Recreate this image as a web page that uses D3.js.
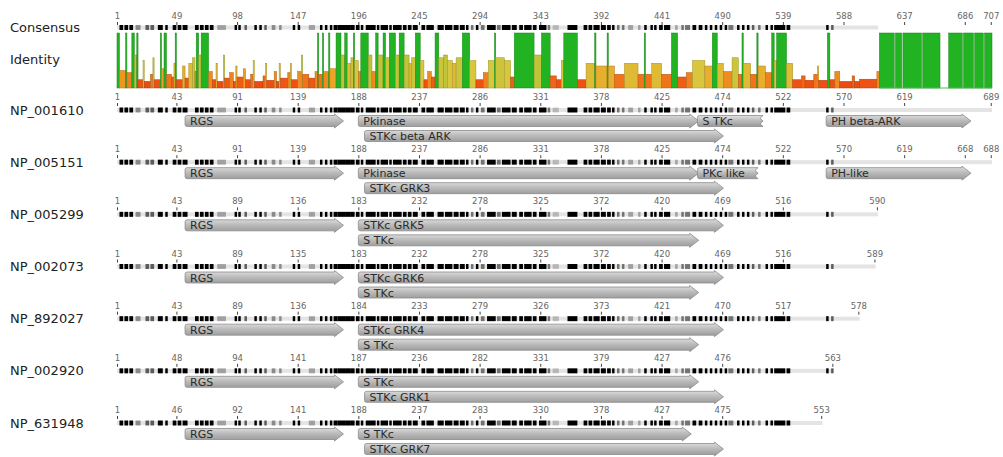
<!DOCTYPE html>
<html>
<head>
<meta charset="utf-8">
<script src="https://cdn.jsdelivr.net/npm/d3@7"></script>
<style>
  body { margin: 0; background: #fff; }
  text { font-family: "DejaVu Sans", sans-serif; }
</style>
</head>
<body>
<svg id="chart" width="1003" height="457"></svg>
<script>
// alignment: 707 columns
const alignLength = 707;

// consensus ruler
const consensusTicks = [1, 49, 98, 147, 196, 245, 294, 343, 392, 441, 490, 539, 588, 637, 686, 707];
const consensusEnd = 615;

// sequences
const seqNames = ["NP_001610", "NP_005151", "NP_005299", "NP_002073", "NP_892027", "NP_002920", "NP_631948"];
const seqEnds = [707, 707, 615, 613, 600, 579, 570];
const seqTickLabels = [
  [1, 43, 91, 139, 188, 237, 286, 331, 378, 425, 474, 522, 570, 619, 689],
  [1, 43, 91, 139, 188, 237, 286, 331, 378, 425, 474, 522, 570, 619, 668, 688],
  [1, 43, 89, 136, 183, 232, 278, 325, 372, 420, 469, 516, 590],
  [1, 43, 89, 135, 183, 232, 278, 325, 372, 420, 469, 516, 589],
  [1, 43, 89, 136, 184, 233, 279, 326, 373, 421, 470, 517, 578],
  [1, 48, 94, 141, 187, 236, 282, 331, 379, 427, 476, 563],
  [1, 46, 92, 141, 188, 237, 283, 330, 378, 427, 475, 553]
];

// conserved blocks in the consensus / sequence tracks: [from, to, darkness]
const trackBlocks = [
  [3,5,1],[7,9,1],[11,13,1],[16,19,0.4],[24,26,0.6],[28,30,0.6],[34,37,1],[40,41,1],[46,48,1],[50,52,1],
  [54,57,1],[64,66,1],[68,70,1],[72,74,1],[76,78,1],[82,88,0.3],[96,97,1],[99,100,1],[104,105,0.6],
  [112,113,1],[116,117,1],[120,121,0.6],[126,128,0.4],[132,133,0.4],[143,144,1],[147,148,1],[156,160,0.3],
  [165,166,1],[169,170,1],[173,174,1],[176,178,1],[179,181,1],[182,185,1],[186,189,1],[190,192,1],
  [194,196,1],[198,199,1],[202,209,1],[211,212,1],[214,219,1],[221,222,1],[224,230,1],[232,234,1],
  [236,238,1],[240,243,1],[247,249,1],[251,256,1],[260,264,1],[266,271,1],[273,276,1],[278,281,1],
  [283,284,1],[287,288,0.5],[291,292,1],[295,297,0.5],[300,306,1],[308,310,0.5],[312,318,1],[320,323,1],
  [326,328,1],[330,335,1],[337,339,1],[342,347,1],[349,350,0.5],[353,357,0.2],[365,372,1],[378,380,1],
  [382,384,1],[386,390,1],[392,395,1],[397,399,1],[401,402,1],[405,406,0.5],[409,410,0.5],[414,417,0.3],
  [422,423,0.3],[427,428,1],[432,433,1],[435,436,1],[439,441,1],[443,447,1],[452,453,0.3],[457,458,0.5],
  [460,463,0.5],[466,468,1],[471,473,1],[476,477,1],[480,481,1],[484,485,1],[488,489,1],[492,493,1],
  [495,498,0.5],[502,503,1],[506,507,1],[510,511,1],[514,515,0.6],[519,520,0.5],[525,526,1],[529,530,1],
  [532,540,1],[542,544,1],[574,575,1],[578,579,0.6]
];

// identity graph: [from, to, percent identity]
const identityRuns = [
  [1,2,100],[3,7,32],[8,8,100],[9,12,28],[13,14,100],[15,16,60],[17,17,100],[18,21,15],[22,22,50],[23,27,12],
  [28,29,25],[30,30,55],[31,35,15],[36,36,100],[37,38,35],[39,40,100],[41,44,25],[45,46,20],[47,47,45],
  [48,48,100],[49,53,15],[54,55,40],[56,58,18],[59,61,45],[62,63,55],[64,64,30],[65,66,100],[67,68,60],
  [69,74,100],[75,77,30],[78,80,15],[81,81,45],[82,86,12],[87,87,60],[88,91,18],[92,94,28],[95,96,12],
  [97,97,40],[98,102,20],[103,104,35],[105,108,15],[109,110,25],[111,111,50],[112,118,12],[119,120,22],
  [121,121,45],[122,127,14],[128,129,30],[130,131,12],[132,132,45],[133,138,18],[139,140,28],[141,141,45],
  [142,146,15],[147,149,30],[150,150,60],[151,155,25],[156,160,18],[161,162,30],[163,163,100],[164,166,25],
  [167,167,100],[168,171,30],[172,172,100],[173,177,35],[178,181,100],[182,184,60],[185,186,100],
  [187,189,45],[190,191,55],[192,192,100],[193,195,50],[196,197,30],[198,203,100],[204,206,60],
  [207,209,30],[210,211,100],[212,215,60],[216,217,100],[218,220,55],[221,225,100],[226,228,60],
  [229,232,100],[233,236,60],[237,238,45],[239,241,55],[242,245,100],[246,248,50],[249,251,15],
  [252,254,30],[255,257,20],[258,260,100],[261,264,55],[265,267,60],[268,271,50],[272,274,45],
  [275,279,55],[280,285,100],[286,290,50],[291,296,15],[297,300,28],[301,305,50],[306,306,100],
  [307,313,55],[314,318,50],[319,321,20],[322,337,100],[338,343,60],[344,350,100],[351,355,22],
  [356,359,15],[360,361,50],[362,372,100],[373,379,15],[380,386,45],[387,387,100],[388,396,40],
  [397,397,100],[398,402,40],[403,410,25],[411,421,45],[422,426,25],[427,427,100],[428,432,25],
  [433,440,45],[441,448,25],[449,453,100],[454,460,20],[461,465,28],[466,475,50],[476,481,40],
  [482,485,100],[486,490,45],[491,497,30],[498,502,55],[503,505,25],[506,506,100],[507,512,45],
  [513,517,25],[518,518,100],[519,524,40],[525,529,28],[530,531,100],[532,533,50],[534,541,100],
  [542,546,45],[547,553,15],[554,556,22],[557,563,14],[564,566,25],[567,567,40],[568,574,14],
  [575,576,100],[577,580,15],[581,584,30],[585,594,12],[595,596,22],[597,600,12],[601,614,16],
  [615,616,30],[617,628,100],[630,634,100],[636,650,100],[652,665,100],[673,683,100],[685,692,100],
  [694,700,100],[702,707,100]
];

// annotations: [row, lane, name, from, to, end type]
const features = [
  [0,0,"RGS",56,183,"arrow"],[0,0,"Pkinase",196,470,"arrow"],[0,0,"S TKc",470,522,"ragged"],
  [0,0,"PH beta-ARK",574,690,"arrow"],[0,1,"STKc beta ARK",201,490,"arrow"],
  [1,0,"RGS",56,183,"arrow"],[1,0,"Pkinase",196,470,"arrow"],[1,0,"PKc like",470,518,"ragged"],
  [1,0,"PH-like",574,690,"arrow"],[1,1,"STKc GRK3",201,490,"arrow"],
  [2,0,"RGS",56,183,"arrow"],[2,0,"STKc GRK5",196,490,"arrow"],[2,1,"S TKc",196,470,"arrow"],
  [3,0,"RGS",56,183,"arrow"],[3,0,"STKc GRK6",196,490,"arrow"],[3,1,"S TKc",196,470,"arrow"],
  [4,0,"RGS",56,183,"arrow"],[4,0,"STKc GRK4",196,490,"arrow"],[4,1,"S TKc",196,470,"arrow"],
  [5,0,"RGS",56,183,"arrow"],[5,0,"S TKc",196,470,"arrow"],[5,1,"STKc GRK1",201,490,"arrow"],
  [6,0,"RGS",56,183,"arrow"],[6,0,"S TKc",196,464,"arrow"],[6,1,"STKc GRK7",201,490,"arrow"]
];

const svg = d3.select("#chart");

const x = d3.scaleLinear().domain([1, alignLength + 1]).range([117, 992]);
const rowY = d3.scaleLinear().domain([0, 6]).range([110, 423]);
const idY = d3.scaleLinear().domain([0, 100]).range([88, 33]);
const idColor = d3.scaleLinear()
  .domain([0, 20, 35, 50, 70, 99, 100])
  .range(["#e6300e", "#ef5c14", "#eea426", "#d8c63c", "#a6c236", "#7cbd30", "#21b321"]);

// gradient for annotation arrows
const defs = svg.append("defs");
const grad = defs.append("linearGradient").attr("id", "annGrad")
  .attr("x1", 0).attr("x2", 0).attr("y1", 0).attr("y2", 1);
grad.append("stop").attr("offset", "0%").attr("stop-color", "#e2e2e2");
grad.append("stop").attr("offset", "45%").attr("stop-color", "#bcbcbc");
grad.append("stop").attr("offset", "100%").attr("stop-color", "#979797");

// left labels
svg.append("text").attr("x", 10).attr("y", 32).attr("font-size", 13).attr("fill", "#222").text("Consensus");
svg.append("text").attr("x", 10).attr("y", 64).attr("font-size", 13).attr("fill", "#222").text("Identity");

function ruler(y, cols, labels) {
  const ax = d3.axisTop(x)
    .tickValues(cols)
    .tickFormat((d, i) => labels[i])
    .tickSize(3)
    .tickPadding(3);
  const g = svg.append("g").attr("transform", "translate(0," + y + ")").call(ax);
  g.select(".domain").remove();
  g.selectAll(".tick line").attr("stroke", "#444").attr("stroke-width", 1);
  g.selectAll(".tick text")
    .attr("fill", "#666")
    .attr("font-size", 8.5)
    .attr("font-family", "DejaVu Sans Mono, monospace");
}

function track(y, end, h) {
  svg.append("rect")
    .attr("x", x(1)).attr("y", y - h / 2)
    .attr("width", x(end + 1) - x(1)).attr("height", h)
    .attr("fill", "#e4e4e4");
  svg.append("g").selectAll("rect")
    .data(trackBlocks.filter(d => d[0] <= end))
    .enter().append("rect")
    .attr("x", d => x(d[0]))
    .attr("y", y - h / 2 - 0.5)
    .attr("width", d => x(Math.min(d[1], end) + 1) - x(d[0]))
    .attr("height", h + 1)
    .attr("fill", "#000")
    .attr("opacity", d => d[2]);
}

// consensus row
ruler(25, consensusTicks, consensusTicks);
track(27.5, consensusEnd, 4);

// identity graph
svg.append("g").selectAll("rect")
  .data(identityRuns)
  .enter().append("rect")
  .attr("x", d => x(d[0]))
  .attr("y", d => idY(d[2]))
  .attr("width", d => x(d[1] + 1) - x(d[0]))
  .attr("height", d => idY(0) - idY(d[2]))
  .attr("fill", d => idColor(d[2]))
  .attr("stroke", d => d3.color(idColor(d[2])).darker(0.8))
  .attr("stroke-width", 0.5);
svg.append("line")
  .attr("x1", x(617)).attr("x2", x(alignLength + 1))
  .attr("y1", idY(0)).attr("y2", idY(0))
  .attr("stroke", "#5cb85c").attr("stroke-width", 1);

// sequence rows
seqNames.forEach((name, i) => {
  const y = rowY(i);
  svg.append("text").attr("x", 10).attr("y", y + 4.5)
    .attr("font-size", 13).attr("fill", "#222").text(name);
  const labels = seqTickLabels[i];
  const cols = consensusTicks.slice(0, labels.length - 1).concat([seqEnds[i]]);
  ruler(y - 4, cols, labels);
  track(y, seqEnds[i], 4);
});

// annotation arrows
function featurePath(x0, x1, yc, type) {
  const h = 5.5, hh = 7, head = 9, r = 2;
  if (type === "ragged") {
    return "M" + (x0 + r) + "," + (yc - h) +
      "L" + x1 + "," + (yc - h) +
      "L" + (x1 - 3) + "," + (yc - h / 2) +
      "L" + x1 + "," + yc +
      "L" + (x1 - 3) + "," + (yc + h / 2) +
      "L" + x1 + "," + (yc + h) +
      "L" + (x0 + r) + "," + (yc + h) +
      "Q" + x0 + "," + (yc + h) + " " + x0 + "," + (yc + h - r) +
      "L" + x0 + "," + (yc - h + r) +
      "Q" + x0 + "," + (yc - h) + " " + (x0 + r) + "," + (yc - h) + "Z";
  }
  return "M" + (x0 + r) + "," + (yc - h) +
    "L" + (x1 - head) + "," + (yc - h) +
    "L" + (x1 - head) + "," + (yc - hh) +
    "L" + x1 + "," + yc +
    "L" + (x1 - head) + "," + (yc + hh) +
    "L" + (x1 - head) + "," + (yc + h) +
    "L" + (x0 + r) + "," + (yc + h) +
    "Q" + x0 + "," + (yc + h) + " " + x0 + "," + (yc + h - r) +
    "L" + x0 + "," + (yc - h + r) +
    "Q" + x0 + "," + (yc - h) + " " + (x0 + r) + "," + (yc - h) + "Z";
}

const ann = svg.append("g").selectAll("g")
  .data(features)
  .enter().append("g");
ann.append("path")
  .attr("d", d => featurePath(x(d[3]), x(d[4] + 1), rowY(d[0]) + 11 + d[1] * 15, d[5]))
  .attr("fill", "url(#annGrad)")
  .attr("stroke", "#8c8c8c")
  .attr("stroke-width", 0.8);
ann.append("text")
  .attr("x", d => x(d[3]) + 5)
  .attr("y", d => rowY(d[0]) + 15 + d[1] * 15)
  .attr("font-size", 11)
  .attr("fill", "#2a2a2a")
  .text(d => d[2]);
</script>
</body>
</html>
